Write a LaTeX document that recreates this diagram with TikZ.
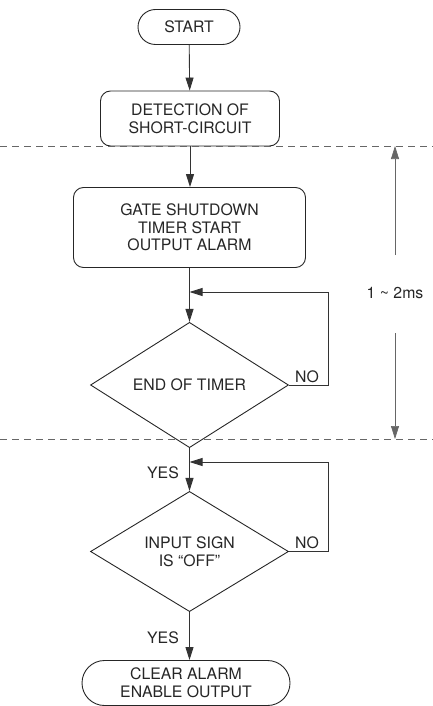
\documentclass[tikz,border=0pt]{standalone}
\usepackage{fontspec}
\setmainfont{TeX Gyre Heros}
\usetikzlibrary{shapes.geometric,shapes.misc,arrows.meta}
\begin{document}
\begin{tikzpicture}[x=1pt,y=-1pt,
  every node/.style={font=\fontsize{15.8}{17.7}\selectfont, text=black!85, align=center},
  term/.style={draw=black!85, line width=0.9pt, rounded rectangle, inner sep=0pt},
  proc/.style={draw=black!85, line width=0.9pt, rounded corners=10pt, inner sep=0pt},
  decide/.style={draw=black!85, line width=0.9pt, diamond, inner sep=0pt, minimum width=198pt, minimum height=108pt},
  arr/.style={draw=black!80, line width=0.9pt, -{Triangle[length=13pt,width=8pt]}},
  lbl/.style={inner sep=0pt},
  sep/.style={draw=black!60, line width=0.8pt, dash pattern=on 7pt off 5pt},
  dim/.style={draw=black!60, line width=0.7pt, -{Triangle[length=13pt,width=8pt]}}
]
\useasboundingbox (0,0) rectangle (433,706);

\node[term, minimum width=102pt, minimum height=35pt] (start) at (189,27) {START};
\node[proc, minimum width=179pt, minimum height=55pt] (det) at (190,118.5) {DETECTION OF\\SHORT-CIRCUIT};
\node[proc, minimum width=232pt, minimum height=80pt] (gate) at (189.5,227.5) {GATE SHUTDOWN\\TIMER START\\OUTPUT ALARM};
\node[decide] (d1) at (189.5,385) {END OF TIMER};
\node[decide] (d2) at (189.5,551.5) {INPUT SIGN\\IS “OFF”};
\node[term, minimum width=208pt, minimum height=45pt] (fin) at (186,683) {CLEAR ALARM\\ENABLE OUTPUT};

% separators
\coordinate (s1l) at (0,146);
\coordinate (s1r) at (433,146);
\coordinate (s2l) at (0,439);
\coordinate (s2r) at (433,439);
\draw[sep] (s1l) -- (s1r);
\draw[sep] (s2l) -- (s2r);

% main flow
\draw[arr] (start) -- (det);
\draw[arr] (det.south) -- (det.south |- gate.north);
\draw[arr] (gate.south) -- (d1.north);
\draw[arr] (d1.south) -- (d2.north);
\draw[arr] (d2.south) -- (d2.south |- fin.north);

% loops
\coordinate (j1) at (189.5,292);
\coordinate (r1) at (328,292);
\draw[arr] (d1.east) -| (r1) -- (j1);
\coordinate (j2) at (189.5,462);
\coordinate (r2) at (328,462);
\draw[arr] (d2.east) -| (r2) -- (j2);

% labels
\node[lbl] (no1) at (307,377) {NO};
\node[lbl] (no2) at (307,543) {NO};
\node[lbl] (yes1) at (163,473) {YES};
\node[lbl] (yes2) at (163,638) {YES};

% dimension
\node[lbl] (ms) at (395,293) {1 \textasciitilde{} 2ms};
\coordinate (dtop) at (395,146);
\coordinate (dbot) at (395,439);
\draw[dim] (395,255) -- (dtop);
\draw[dim] (395,333) -- (dbot);
\end{tikzpicture}
\end{document}
